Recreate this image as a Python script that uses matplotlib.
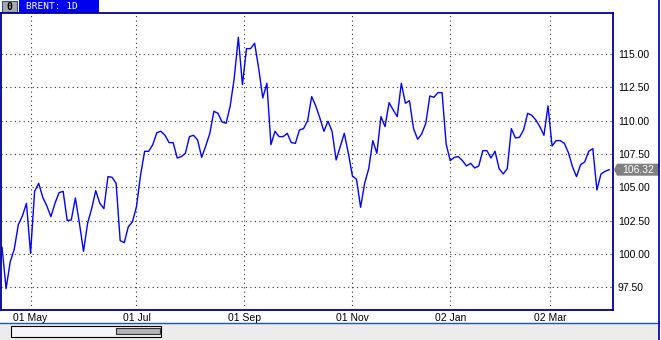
import numpy as np
import pandas as pd
import matplotlib
matplotlib.use("Agg")
import matplotlib.pyplot as plt
from matplotlib.patches import Rectangle, Polygon

plt.rcParams['font.family'] = ['Liberation Sans', 'DejaVu Sans']

# Brent daily closes, every second session (Apr 2013 - Apr 2014)
close = [
    100.5, 97.4, 99.4, 100.35, 102.2, 102.85, 103.8, 100.05, 104.7, 105.3,
    104.25, 103.6, 102.8, 103.8, 104.6, 104.7, 102.5, 102.55, 104.2, 102.3,
    100.2, 102.3, 103.4, 104.75, 103.8, 103.4, 105.8, 105.75, 105.3, 101.0,
    100.85, 102.05, 102.4, 103.55, 105.9, 107.7, 107.7, 108.2, 109.1, 109.2,
    108.9, 108.35, 108.35, 107.2, 107.3, 107.55, 108.8, 108.9, 108.55, 107.25,
    108.1, 109.05, 110.7, 110.55, 109.9, 109.8, 111.1, 113.2, 116.25, 112.7,
    115.4, 115.4, 115.8, 113.9, 111.7, 112.8, 108.2, 109.2, 108.8, 108.8,
    109.05, 108.35, 108.3, 109.3, 109.4, 110.0, 111.8, 111.1, 110.2, 109.2,
    109.95, 109.2, 107.05, 108.05, 109.05, 107.55, 105.85, 105.6, 103.5, 105.3,
    106.4, 108.5, 107.55, 110.3, 109.55, 111.35, 110.8, 110.3, 112.8, 111.3,
    111.5, 109.4, 108.6, 109.0, 109.8, 111.85, 111.75, 112.1, 112.1, 108.25,
    107.0, 107.25, 107.3, 107.0, 106.6, 106.8, 106.45, 106.6, 107.75, 107.75,
    107.2, 107.7, 106.4, 106.0, 106.4, 109.4, 108.7, 108.75, 109.3, 110.55,
    110.4, 110.05, 109.55, 108.9, 111.1, 108.1, 108.5, 108.5, 108.3, 107.6,
    106.55, 105.8, 106.7, 106.9, 107.7, 107.9, 104.8, 106.0, 106.2, 106.32,
]
holidays = ['2013-11-28', '2013-12-24', '2013-12-25', '2013-12-26',
            '2014-01-01', '2014-01-20']
tick_months = ['2013-05', '2013-07', '2013-09', '2013-11', '2014-01', '2014-03']
y_ticks = [97.5, 100.0, 102.5, 105.0, 107.5, 110.0, 112.5, 115.0]
title = "BRENT: 1D"

# trading sessions (Sun-Fri), bar index is the x axis
sessions = pd.bdate_range('2013-04-15', periods=2 * len(close) - 1, freq='C',
                          weekmask='Sun Mon Tue Wed Thu Fri', holidays=holidays)
months = sessions.strftime('%Y-%m')
tick_pos = [int(np.argmax(months == m)) for m in tick_months]
tick_lab = [sessions[i].strftime('%d %b') for i in tick_pos]
x = np.arange(len(close)) * 2

W, H = 661, 340
fig = plt.figure(figsize=(W / 100, H / 100), dpi=100)
fig.patch.set_facecolor('white')

# window decoration layer, pixel coords
deco = fig.add_axes([0, 0, 1, 1])
deco.set_xlim(0, W)
deco.set_ylim(H, 0)
deco.axis('off')
deco.set_zorder(0)

ax = fig.add_axes([1 / W, 1 - 310 / H, 612 / W, 297 / H])
ax.set_zorder(1)
ax.set_facecolor('white')

ax.plot(x, close, color='#0000FF', lw=1.0)
ax.set_xlim(-0.5, 299.9)
ax.set_ylim(95.8, 118.07)

ax.set_xticks(tick_pos)
ax.set_xticklabels(tick_lab)
ax.set_yticks(y_ticks)
ax.set_yticklabels([f"{v:.2f}" for v in y_ticks])
ax.yaxis.tick_right()
ax.tick_params(axis='both', length=0, labelsize=7.5, colors='black')
ax.tick_params(axis='y', pad=3.6)
ax.tick_params(axis='x', pad=2.5)
ax.grid(True, color='#303030', linestyle=(0, (1, 3)), lw=0.8)
ax.set_axisbelow(True)
for s in ax.spines.values():
    s.set_color('#000090')
    s.set_linewidth(1.3)

# bottom panel with scrollbar, outer border
deco.add_patch(Rectangle((0, 323), 659, 17, fc='#ECECEC', ec='none'))
deco.plot([0, 659], [323, 323], color='#1E50C8', lw=1.0)
deco.plot([659, 659], [0, H], color='#0A0AB4', lw=1.3)
deco.add_patch(Rectangle((11, 326), 150, 10.5, fc='#F6F6F6', ec='black', lw=0.8))
deco.add_patch(Rectangle((116, 328), 44, 6, fc='#B4B4B4', ec='#303030', lw=0.8))

# title tab
deco.add_patch(Rectangle((2, 0.5), 15, 11.5, fc='#A8A8A8', ec='#3050A0', lw=0.8))
deco.text(9.5, 6.5, "0", ha='center', va='center', fontsize=7, fontweight='bold',
          color='black', family='DejaVu Sans Mono')
deco.add_patch(Rectangle((19, 0), 80, 12.5, fc='#0000F0', ec='none'))
deco.text(26, 6.5, title, ha='left', va='center', fontsize=6.8, color='white',
          family='DejaVu Sans Mono')

# last price marker on the price scale
ypix = H - ax.transData.transform((0, close[-1]))[1] * 100 / fig.dpi
deco.add_patch(Polygon([(614, ypix), (617, ypix - 6), (659, ypix - 6),
                        (659, ypix + 6), (617, ypix + 6)],
                       closed=True, fc='#808080', ec='none'))
deco.text(638, ypix + 0.5, f"{close[-1]:.2f}", ha='center', va='center',
          fontsize=7.5, color='white')

fig.savefig("out.png", dpi=100)
